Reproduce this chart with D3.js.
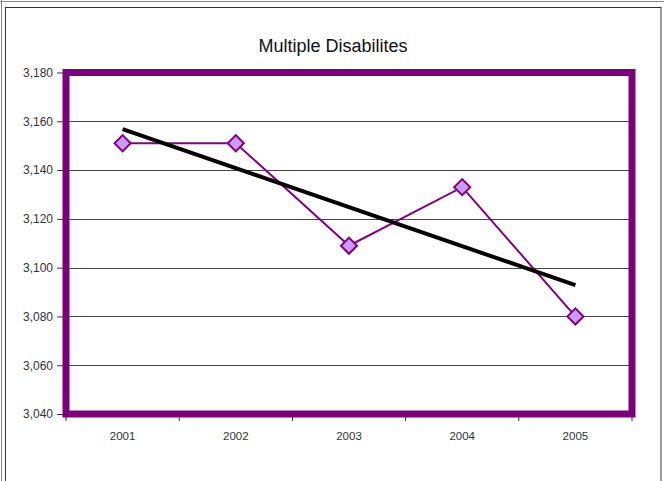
<!DOCTYPE html>
<html><head><meta charset="utf-8">
<script src="https://cdn.jsdelivr.net/npm/d3@7"></script>
<style>body{margin:0;background:#fff}svg{display:block}</style>
</head><body>
<script>
const title = "Multiple Disabilites";
const years = ["2001","2002","2003","2004","2005"];
const values = [3151, 3151, 3109, 3133, 3080];
const yTicks = [3040, 3060, 3080, 3100, 3120, 3140, 3160, 3180];

(function(){
const W = 671, H = 481;
const svg = d3.select("body").append("svg").attr("width", W).attr("height", H);

svg.append("line").attr("x1",0).attr("x2",664).attr("y1",1.5).attr("y2",1.5).attr("stroke","#888");
svg.append("line").attr("x1",1.5).attr("x2",1.5).attr("y1",0).attr("y2",H).attr("stroke","#888");
svg.append("rect").attr("x",5.5).attr("y",7.5).attr("width",655.5).attr("height",H).attr("fill","#fff").attr("stroke","#333");

const pL = 66, pR = 632, pT = 72.5, pB = 414;
const x = d3.scaleBand().domain(years).range([pL, pR]);
const y = d3.scaleLinear().domain([3040, 3180]).range([pB, pT]);

svg.append("text").attr("x", 333).attr("y", 52).attr("text-anchor","middle")
  .attr("font-family","Liberation Sans, Arial, sans-serif").attr("font-size",18).attr("fill","#111").text(title);

svg.append("g").selectAll("line").data(yTicks.filter(d => d>3040 && d<3180)).join("line")
  .attr("x1", pL).attr("x2", pR).attr("y1", d => Math.round(y(d))+0.5).attr("y2", d => Math.round(y(d))+0.5)
  .attr("stroke","#444").attr("stroke-width",1);

const yAxis = d3.axisLeft(y).tickValues(yTicks).tickFormat(d3.format(",")).tickSize(6).tickPadding(4);
const gy = svg.append("g").attr("transform",`translate(${pL-3},0)`).call(yAxis);
gy.select(".domain").remove();
gy.selectAll("line").attr("stroke","#333");
gy.selectAll("text").attr("font-family","Liberation Sans, Arial, sans-serif").attr("font-size",12).attr("fill","#333");

const xAxis = d3.axisBottom(x).tickSize(0).tickPadding(15);
const gx = svg.append("g").attr("transform",`translate(0,${pB+3})`).call(xAxis);
gx.select(".domain").remove();
gx.selectAll("text").attr("font-family","Liberation Sans, Arial, sans-serif").attr("font-size",11.5).attr("fill","#333");
const bounds = years.map(d => x(d)).concat([pR]);
svg.append("g").selectAll("line").data(bounds).join("line")
  .attr("x1", d => d).attr("x2", d => d).attr("y1", pB+3).attr("y2", pB+7).attr("stroke","#333");

svg.append("rect").attr("x", pL).attr("y", pT).attr("width", pR-pL).attr("height", pB-pT)
  .attr("fill","none").attr("stroke","#7a007a").attr("stroke-width",7);

const cx = d => x(d) + x.bandwidth()/2;

const line = d3.line().x((d,i) => cx(years[i])).y(d => y(d));
svg.append("path").datum(values).attr("d", line).attr("fill","none").attr("stroke","#800080").attr("stroke-width",2);

const n = values.length;
const xs = values.map((d,i) => i+1);
const mx = d3.mean(xs), my = d3.mean(values);
const slope = d3.sum(xs.map((xi,i) => (xi-mx)*(values[i]-my))) / d3.sum(xs.map(xi => (xi-mx)**2));
const icpt = my - slope*mx;
svg.append("line")
  .attr("x1", cx(years[0])).attr("y1", y(icpt + slope*1))
  .attr("x2", cx(years[n-1])).attr("y2", y(icpt + slope*n))
  .attr("stroke","#000").attr("stroke-width",4);

svg.append("g").selectAll("path").data(values).join("path")
  .attr("d", d3.symbol().type(d3.symbolSquare).size(130)())
  .attr("transform",(d,i) => `translate(${cx(years[i])},${y(d)}) rotate(45)`)
  .attr("fill","#cc99ff").attr("stroke","#800080").attr("stroke-width",2);
})();
</script>
</body></html>
